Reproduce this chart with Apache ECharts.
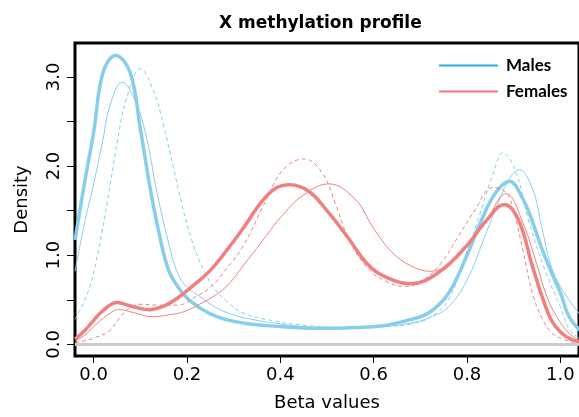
<!DOCTYPE html>
<html>
<head>
<meta charset="utf-8">
<script src="https://cdn.jsdelivr.net/npm/echarts@6/dist/echarts.min.js"></script>
<style>
html, body { margin: 0; padding: 0; background: #fff; }
#chart { width: 579px; height: 417px; }
</style>
</head>
<body>
<div id="chart"></div>
<script>
// density curves as [beta value, density] knots
// males: thick = all samples, thin = set A, dashed = set B
var malesAll = [[-0.04, 1.17], [-0.02, 1.80], [0, 2.38], [0.02, 3.05], [0.047, 3.24], [0.078, 3.05], [0.10, 2.42],
    [0.12, 1.78], [0.14, 1.25], [0.16, 0.84], [0.18, 0.65], [0.20, 0.52], [0.23, 0.40], [0.27, 0.30],
    [0.32, 0.24], [0.40, 0.20], [0.48, 0.18], [0.56, 0.19], [0.62, 0.21], [0.68, 0.28], [0.72, 0.36],
    [0.76, 0.57], [0.80, 1.00], [0.83, 1.38], [0.86, 1.69], [0.891, 1.83], [0.92, 1.63], [0.94, 1.38],
    [0.96, 1.08], [0.98, 0.82], [1.00, 0.58], [1.02, 0.30], [1.05, 0.12]];
var malesA = [[-0.04, 0.82], [-0.02, 1.35], [0, 1.80], [0.02, 2.30], [0.035, 2.68], [0.061, 2.94], [0.09, 2.72],
    [0.114, 2.30], [0.135, 1.72], [0.16, 1.15], [0.18, 0.80], [0.20, 0.64], [0.23, 0.53], [0.26, 0.42],
    [0.30, 0.33], [0.35, 0.27], [0.40, 0.23], [0.48, 0.19], [0.56, 0.19], [0.62, 0.20], [0.68, 0.24],
    [0.72, 0.30], [0.76, 0.42], [0.80, 0.72], [0.83, 1.10], [0.86, 1.50], [0.89, 1.85], [0.912, 1.96],
    [0.94, 1.75], [0.96, 1.32], [0.98, 0.88], [1.00, 0.65], [1.02, 0.49], [1.05, 0.28]];
var malesB = [[-0.04, 0.28], [-0.01, 0.62], [0.01, 1.05], [0.03, 1.62], [0.05, 2.25], [0.07, 2.75], [0.10, 3.09],
    [0.13, 2.82], [0.15, 2.45], [0.17, 2.00], [0.19, 1.55], [0.21, 1.17], [0.237, 0.82], [0.26, 0.62],
    [0.286, 0.48], [0.321, 0.35], [0.39, 0.26], [0.46, 0.21], [0.54, 0.19], [0.62, 0.20], [0.68, 0.23],
    [0.72, 0.30], [0.76, 0.50], [0.80, 1.05], [0.83, 1.50], [0.855, 1.90], [0.877, 2.15], [0.905, 1.93],
    [0.933, 1.37], [0.968, 0.82], [1.00, 0.42], [1.022, 0.15], [1.05, 0.05]];

// females
var femalesAll = [[-0.04, 0.06], [-0.02, 0.15], [0, 0.27], [0.02, 0.38], [0.05, 0.47], [0.08, 0.43], [0.118, 0.39],
    [0.15, 0.43], [0.18, 0.52], [0.22, 0.69], [0.25, 0.83], [0.28, 1.02], [0.32, 1.30], [0.36, 1.60],
    [0.39, 1.75], [0.42, 1.79], [0.46, 1.72], [0.50, 1.50], [0.546, 1.19], [0.585, 0.91], [0.62, 0.77],
    [0.68, 0.68], [0.74, 0.81], [0.80, 1.11], [0.84, 1.38], [0.88, 1.57], [0.91, 1.40], [0.94, 0.88],
    [0.96, 0.55], [0.98, 0.28], [1.00, 0.14], [1.022, 0.06], [1.05, 0.02]];
var femalesA = [[-0.04, 0.04], [-0.02, 0.10], [0, 0.20], [0.03, 0.33], [0.054, 0.39], [0.09, 0.35], [0.125, 0.31],
    [0.16, 0.33], [0.195, 0.37], [0.23, 0.46], [0.26, 0.55], [0.29, 0.68], [0.32, 0.88], [0.36, 1.15],
    [0.40, 1.42], [0.448, 1.67], [0.504, 1.80], [0.56, 1.63], [0.60, 1.30], [0.64, 1.03], [0.68, 0.88],
    [0.722, 0.82], [0.77, 0.94], [0.835, 1.33], [0.884, 1.69], [0.92, 1.36], [0.954, 0.82], [0.968, 0.58],
    [0.99, 0.33], [1.022, 0.11], [1.05, 0.04]];
var femalesB = [[-0.04, 0.02], [-0.02, 0.04], [0, 0.07], [0.033, 0.15], [0.068, 0.37], [0.10, 0.45], [0.14, 0.44],
    [0.18, 0.44], [0.22, 0.54], [0.25, 0.64], [0.28, 0.82], [0.32, 1.10], [0.364, 1.56], [0.406, 1.96],
    [0.451, 2.08], [0.49, 1.92], [0.52, 1.55], [0.546, 1.19], [0.59, 0.84], [0.63, 0.70], [0.665, 0.65],
    [0.70, 0.70], [0.743, 0.90], [0.78, 1.20], [0.814, 1.48], [0.856, 1.76], [0.884, 1.70], [0.90, 1.50],
    [0.92, 1.05], [0.94, 0.58], [0.96, 0.30], [0.98, 0.14], [1.00, 0.07], [1.03, 0.02]];

var xTicks = [0, 0.2, 0.4, 0.6, 0.8, 1.0];
var yTicks = [0, 0.5, 1, 1.5, 2, 2.5, 3];
var yLabels = [0, 1, 2, 3];

var maleColor = '#87ceeb';
var femaleColor = '#f08080';

function curve(points, color, width, dashed) {
    return {
        type: 'line',
        data: points,
        showSymbol: false,
        smooth: 0.4,
        z: 3,
        silent: true,
        lineStyle: { color: color, width: width, type: dashed ? [4, 3] : 'solid' }
    };
}

var chart = echarts.init(document.getElementById('chart'));
chart.setOption({
    animation: false,
    title: {
        text: 'X methylation profile',
        left: 214,
        top: 10,
        textStyle: { fontFamily: 'DejaVu Sans', fontWeight: 'bold', fontSize: 17, color: '#000' }
    },
    legend: {
        data: ['Males', 'Females'],
        orient: 'vertical',
        left: 439,
        top: 56,
        padding: 0,
        icon: 'rect',
        itemWidth: 59,
        itemHeight: 2,
        itemGap: 7,
        textStyle: { fontFamily: 'Lato', fontWeight: 'bold', fontSize: 17, color: '#000', lineHeight: 19, padding: [0, 0, 0, 3] }
    },
    grid: {
        left: 75, right: -8, top: 43, bottom: 58.5,
        show: true, borderColor: '#000', borderWidth: 3, backgroundColor: 'transparent'
    },
    xAxis: {
        type: 'value', min: -0.04, max: 1.04,
        name: 'Beta values', nameLocation: 'middle', nameGap: 38,
        nameTextStyle: { fontFamily: 'DejaVu Sans', fontSize: 18, color: '#000' },
        axisLine: { show: false, onZero: false },
        axisTick: { show: true, length: 7, customValues: xTicks, lineStyle: { color: '#000', width: 1 } },
        axisLabel: {
            customValues: xTicks, margin: 10,
            fontFamily: 'DejaVu Sans', fontSize: 18, color: '#000',
            formatter: function (v) { return v.toFixed(1); }
        },
        splitLine: { show: false }
    },
    yAxis: {
        type: 'value', min: -0.13, max: 3.38,
        name: 'Density', nameLocation: 'middle', nameGap: 44, nameRotate: 90,
        nameTextStyle: { fontFamily: 'DejaVu Sans', fontSize: 18, color: '#000' },
        axisLine: { show: false, onZero: false },
        axisTick: { show: true, length: 8, customValues: yTicks, lineStyle: { color: '#000', width: 1 } },
        axisLabel: {
            customValues: yLabels, margin: 12, rotate: 90,
            fontFamily: 'DejaVu Sans', fontSize: 18, color: '#000',
            formatter: function (v) { return v.toFixed(1); }
        },
        splitLine: { show: false }
    },
    series: [
        {
            type: 'line', data: [], z: 1, silent: true,
            markLine: {
                silent: true, symbol: 'none', label: { show: false },
                lineStyle: { color: '#cccccc', width: 3, type: 'solid' },
                data: [{ yAxis: 0 }]
            }
        },
        curve(malesA, maleColor, 1, false),
        curve(malesB, maleColor, 1, true),
        curve(malesAll, maleColor, 3.5, false),
        curve(femalesA, femaleColor, 1, false),
        curve(femalesB, femaleColor, 1, true),
        curve(femalesAll, femaleColor, 3.5, false),
        { name: 'Males', type: 'line', data: [], itemStyle: { color: '#27b0e6' }, lineStyle: { color: '#27b0e6' } },
        { name: 'Females', type: 'line', data: [], itemStyle: { color: '#f7787c' }, lineStyle: { color: '#f7787c' } }
    ]
});
</script>
</body>
</html>
